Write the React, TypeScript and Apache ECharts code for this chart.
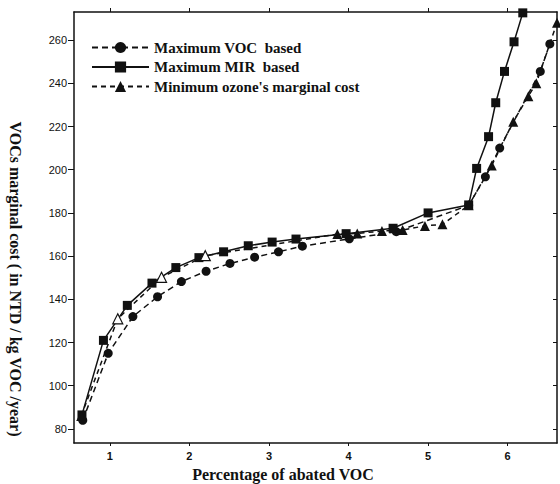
import React, { useEffect, useRef } from "react";
import * as echarts from "echarts";

// Maximum VOC based (circles, dashed)
const vocX = [0.66, 0.98, 1.29, 1.6, 1.9, 2.21, 2.51, 2.82, 3.12, 3.42, 4.01, 4.6, 5.51, 5.72, 5.9, 6.41, 6.53];
const vocY = [84, 115, 132, 141.2, 148.2, 153, 156.6, 159.5, 162, 164.6, 168, 171.3, 183.5, 196.7, 210, 245.5, 258.2];

// Maximum MIR based (squares, solid)
const mirX = [0.65, 0.92, 1.22, 1.53, 1.83, 2.12, 2.43, 2.74, 3.04, 3.34, 3.97, 4.56, 5.0, 5.51, 5.61, 5.76, 5.85, 5.96, 6.08, 6.19];
const mirY = [86.5, 121, 137.2, 147.5, 154.7, 159.3, 162, 164.8, 166.5, 167.9, 170.4, 172.9, 180, 183.7, 200.6, 215.3, 231, 245.5, 259.2, 272.6];

// Minimum ozone's marginal cost (triangles, dashed)
const ozoneX = [0.64, 1.1, 1.65, 2.2, 3.86, 4.11, 4.42, 4.68, 4.96, 5.18, 5.51, 5.8, 6.07, 6.26, 6.36, 6.62];
const ozoneY = [86, 131, 150.2, 160.2, 170.2, 170.5, 171.6, 172.1, 174, 174.7, 183.5, 202, 222.2, 234, 240, 268];
const ozoneOpenIdx = [1, 2, 3];

const xTicks = [1, 2, 3, 4, 5, 6];
const yTicks = [80, 100, 120, 140, 160, 180, 200, 220, 240, 260];

const seriesNames = ["Maximum VOC  based", "Maximum MIR  based", "Minimum ozone's marginal cost"];
const xTitle = "Percentage of abated VOC";
const yTitle = "VOCs marginal cost ( in NTD / kg VOC /year)";

const X_MIN = 0.55;
const X_MAX = 6.62;
const Y_MIN = 73.5;
const Y_MAX = 273;

export default function App() {
  const ref = useRef<HTMLDivElement>(null);
  useEffect(() => {
    if (!ref.current) return;
    const chart = echarts.init(ref.current, undefined, { renderer: "svg" });
    const zip = (xs: number[], ys: number[]) => xs.map((x, i) => [x, ys[i]]);
    const serif = "'Liberation Serif', 'Times New Roman', serif";
    const sans = "'Liberation Sans', Arial, sans-serif";
    const black = "#111";
    const axisLineStyle = { color: black, width: 1.5 };

    chart.setOption({
      animation: false,
      backgroundColor: "#fff",
      grid: { left: 74, right: 3, top: 12, bottom: 41 },
      legend: {
        orient: "vertical",
        left: 86,
        top: 35,
        itemWidth: 57,
        itemHeight: 14,
        itemGap: 4.5,
        textStyle: { fontFamily: serif, fontWeight: "bold", fontSize: 15, color: black, lineHeight: 14 },
        data: seriesNames,
      },
      xAxis: [
        {
          type: "value",
          min: X_MIN,
          max: X_MAX,
          position: "bottom",
          axisLine: { onZero: false, lineStyle: axisLineStyle },
          axisTick: { show: true, length: 3, customValues: xTicks, lineStyle: { color: black } },
          axisLabel: { customValues: xTicks, margin: 7, fontFamily: sans, fontWeight: "bold", fontSize: 11, color: black },
          splitLine: { show: false },
        },
        {
          type: "value",
          min: X_MIN,
          max: X_MAX,
          position: "top",
          axisLine: { onZero: false, lineStyle: axisLineStyle },
          axisTick: { show: true, length: 4, customValues: xTicks, lineStyle: { color: black } },
          axisLabel: { show: false },
          splitLine: { show: false },
        },
      ],
      yAxis: [
        {
          type: "value",
          min: Y_MIN,
          max: Y_MAX,
          position: "left",
          axisLine: { show: true, onZero: false, lineStyle: axisLineStyle },
          axisTick: { show: true, length: 6, customValues: yTicks, lineStyle: { color: black } },
          axisLabel: { customValues: yTicks, margin: 7, fontFamily: sans, fontSize: 11, color: black },
          splitLine: { show: false },
        },
        {
          type: "value",
          min: Y_MIN,
          max: Y_MAX,
          position: "right",
          axisLine: { show: true, onZero: false, lineStyle: axisLineStyle },
          axisTick: { show: true, inside: true, length: 4, customValues: yTicks, lineStyle: { color: black } },
          axisLabel: { show: false },
          splitLine: { show: false },
        },
      ],
      series: [
        {
          name: seriesNames[0],
          type: "line",
          data: zip(vocX, vocY),
          symbol: "circle",
          symbolSize: 9,
          itemStyle: { color: black },
          lineStyle: { color: black, width: 1.5, type: [6, 4] },
          clip: false,
        },
        {
          name: seriesNames[1],
          type: "line",
          data: zip(mirX, mirY),
          symbol: "rect",
          symbolSize: 9,
          itemStyle: { color: black },
          lineStyle: { color: black, width: 1.5, type: "solid" },
          clip: false,
        },
        {
          name: seriesNames[2],
          type: "line",
          data: zip(ozoneX, ozoneY).map((p, i) =>
            ozoneOpenIdx.includes(i)
              ? { value: p, itemStyle: { color: "#fff", borderColor: black, borderWidth: 1.2 } }
              : { value: p }
          ),
          symbol: "triangle",
          symbolSize: 10,
          itemStyle: { color: black },
          lineStyle: { color: black, width: 1.5, type: [5, 4] },
          clip: false,
        },
      ],
      graphic: [
        {
          type: "text",
          x: 283,
          y: 474,
          style: {
            text: xTitle,
            fontFamily: serif,
            fontWeight: "bold",
            fontSize: 16,
            fill: black,
            align: "center",
            verticalAlign: "middle",
          },
        },
        {
          type: "text",
          x: 15,
          y: 279,
          rotation: -Math.PI / 2,
          style: {
            text: yTitle,
            fontFamily: serif,
            fontWeight: "bold",
            fontSize: 16,
            fill: black,
            align: "center",
            verticalAlign: "middle",
          },
        },
      ],
    });
    return () => chart.dispose();
  }, []);
  return (
    <div
      ref={ref}
      style={{ position: "fixed", left: 0, top: 0, width: 560, height: 484, background: "#fff" }}
    />
  );
}
